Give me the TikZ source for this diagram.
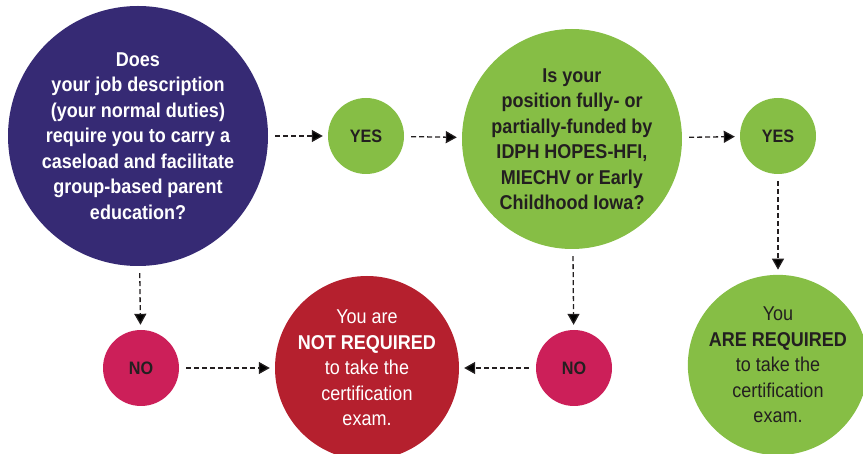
\documentclass[tikz,border=0pt]{standalone}
\usepackage {fontspec}
\setmainfont[FakeStretch=0.9]{Liberation Sans}
\usetikzlibrary{arrows.meta,positioning}
\definecolor {indigo}{RGB}{54,42,116}
\definecolor {gruen}{RGB}{134,190,69}
\definecolor {pink}{RGB}{204,31,89}
\definecolor {rot}{RGB}{181,32,46}
\definecolor {ink}{RGB}{35,31,32}

\begin{document}
\begin{tikzpicture}[x=1pt, y=1pt,
                      question/.style = {
                        circle, inner sep=0pt,
                        align=center,
                        font=\fontsize{20}{25.5}\selectfont\bfseries
                      },
                      answer/.style = {
                        circle, inner sep=0pt, minimum size=76pt,
                        text=ink,
                        font=\fontsize{18}{20}\selectfont\bfseries
                      },
                      flow/.style = {
                        draw=ink, line width=1.3pt,
                        dash pattern=on 5pt off 3pt,
                        -{Triangle[width=12pt, length=11pt]},
                        shorten <=7pt, shorten >=5pt
                      }]
    \useasboundingbox (0,0) rectangle (863,453);

    \node(job)[question, fill=indigo, text=white, minimum size=260pt] at (138,317)
      {Does\\ your job description\\ (your normal duties)\\ require you to carry a\\
       caseload and facilitate\\ group-based parent\\ education?};
    \node(yesA)[answer, fill=gruen] at (366,317) {YES};
    \node(funded)[question, fill=gruen, text=ink, minimum size=220pt] at (572,314)
      {Is your\\ position fully- or\\ partially-funded by\\ IDPH HOPES-HFI,\\
       MIECHV or Early\\ Childhood Iowa?};
    \node(yesB)[answer, fill=gruen] at (778,317) {YES};
    \node(required)[question, fill=gruen, text=ink, minimum size=170pt] at (778,88)
      {\mdseries You\\ ARE REQUIRED\\ \mdseries to take the\\ \mdseries certification\\ \mdseries exam.};

    \node(noA)[answer, fill=pink] at (141,85) {NO};
    \node(notreq)[question, fill=rot, text=white, minimum size=184pt] at (367,85)
      {\mdseries You are\\ NOT REQUIRED\\ \mdseries to take the\\ \mdseries certification\\ \mdseries exam.};
    \node(noB)[answer, fill=pink] at (574,85) {NO};

    \path[flow]
      (job) edge (yesA)
      (yesA) edge (funded)
      (funded) edge (yesB)
      (yesB) edge (required)
      (job) edge (noA)
      (noA) edge (notreq)
      (funded) edge (noB)
      (noB) edge (notreq);
  \end{tikzpicture}
\end{document}
